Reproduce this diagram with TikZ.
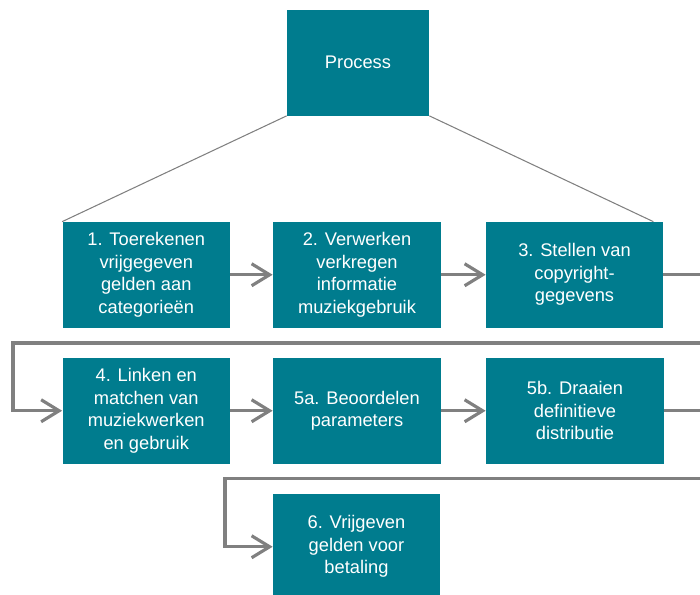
\documentclass[tikz,border=0pt]{standalone}
\usepackage{fontspec}
\setmainfont{Liberation Sans}
\usetikzlibrary{arrows.meta}
\definecolor{procteal}{HTML}{007C8E}
\definecolor{linegray}{HTML}{808080}

\begin{document}
\begin{tikzpicture}[
        teal box/.style={fill=procteal, text=white, align=center, inner sep=0pt,
                         minimum height=2.11cm, font=\fontsize{10.4}{12.8}\selectfont},
        thin line/.style={draw=linegray, line width=.6pt},
        gray arrow/.style={draw=linegray, line width=1.8pt,
                           -{Straight Barb[length=3.6mm,width=4.4mm]}}]
        \useasboundingbox (0,0) rectangle (14,11.88);
        \clip (0,0) rectangle (14,11.88);

        % top
        \node[teal box, minimum width=2.84cm] (p)  at (7.16,10.625) {Process};

        % row 1
        \node[teal box, minimum width=3.35cm] (b1) at (2.925,6.385) {1. Toerekenen\\vrijgegeven\\gelden aan\\categorieën};
        \node[teal box, minimum width=3.36cm] (b2) at (7.14,6.385)  {2. Verwerken\\verkregen\\informatie\\muziekgebruik};
        \node[teal box, minimum width=3.54cm] (b3) at (11.49,6.385) {3. Stellen van\\copyright-\\gegevens};

        % row 2
        \node[teal box, minimum width=3.35cm] (b4)  at (2.925,3.665) {4. Linken en\\matchen van\\muziekwerken\\en gebruik};
        \node[teal box, minimum width=3.36cm] (b5a) at (7.14,3.665)  {5a. Beoordelen\\parameters};
        \node[teal box, minimum width=3.56cm] (b5b) at (11.50,3.665) {5b. Draaien\\definitieve\\distributie};

        % row 3
        \node[teal box, minimum width=3.34cm] (b6) at (7.13,0.945) {6. Vrijgeven\\gelden voor\\betaling};

        \draw[thin line] (p.south west) -- (b1.north west);
        \draw[thin line] (p.south east) -- ([xshift=-.2cm]b3.north east);

        \draw[gray arrow] (b1) -- (b2);
        \draw[gray arrow] (b2) -- (b3);
        \draw[gray arrow] (b4) -- (b5a);
        \draw[gray arrow] (b5a) -- (b5b);

        % wrap to next row
        \draw[gray arrow] (b3.east) -- (14.4,6.385) |- (0.26,5.02) |- (b4.west);
        \draw[gray arrow] (b5b.east) -- (14.4,3.665) |- (4.5,2.31) |- (b6.west);
\end{tikzpicture}
\end{document}
